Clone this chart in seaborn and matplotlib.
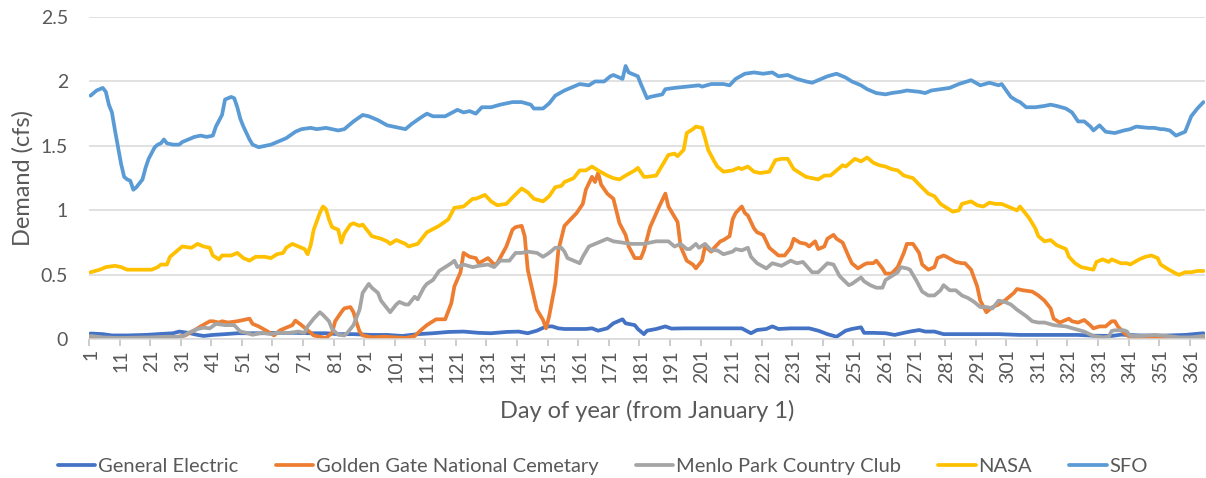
import numpy as np
import pandas as pd
import matplotlib
matplotlib.use("Agg")
import matplotlib.pyplot as plt
import seaborn as sns
from matplotlib.ticker import FixedLocator

sns.set_theme(style="white")
plt.rcParams['font.family'] = ['Lato', 'DejaVu Sans']

# ---------------- data ----------------
series_names = ["General Electric", "Golden Gate National Cemetary",
                "Menlo Park Country Club", "NASA", "SFO"]

ge_days = [1, 5, 8, 13, 19, 23, 28, 30, 33, 36, 38, 41, 45, 49, 57, 62, 68, 73, 78, 82, 87, 93, 98, 103,
           108, 113, 118, 123, 128, 132, 137, 141, 144, 147, 150, 152, 154, 156, 163, 165, 167, 170, 172,
           175, 176, 179, 180, 182, 183, 186, 189, 191, 195, 214, 217, 219, 222, 224, 226, 230, 236, 239,
           242, 245, 248, 250, 253, 254, 257, 261, 264, 267, 269, 272, 274, 277, 280, 298, 305, 324, 329,
           335, 338, 344, 351, 359, 365]
ge_vals = [0.045, 0.04, 0.03, 0.03, 0.034, 0.04, 0.047, 0.06, 0.05, 0.034, 0.026, 0.034, 0.04, 0.047,
           0.047, 0.05, 0.05, 0.047, 0.047, 0.04, 0.04, 0.034, 0.034, 0.026, 0.04, 0.047, 0.057, 0.06,
           0.05, 0.047, 0.057, 0.06, 0.047, 0.067, 0.10, 0.10, 0.085, 0.08, 0.08, 0.085, 0.067, 0.085,
           0.124, 0.155, 0.124, 0.11, 0.08, 0.04, 0.067, 0.08, 0.10, 0.083, 0.085, 0.085, 0.047, 0.072,
           0.08, 0.10, 0.08, 0.085, 0.085, 0.067, 0.04, 0.02, 0.067, 0.08, 0.093, 0.05, 0.05, 0.047,
           0.034, 0.05, 0.06, 0.072, 0.06, 0.06, 0.04, 0.04, 0.034, 0.034, 0.028, 0.026, 0.036, 0.03,
           0.028, 0.034, 0.047]

gg_days = [1, 5, 10, 16, 21, 26, 32, 35, 37, 40, 41, 43, 44, 46, 49, 51, 53, 54, 56, 59, 61, 63, 65, 67,
           68, 70, 72, 74, 77, 78, 80, 81, 83, 84, 86, 87, 88, 89, 90, 93, 97, 101, 104, 107, 109, 111,
           114, 117, 119, 120, 122, 123, 125, 127, 128, 131, 133, 134, 137, 139, 140, 142, 143, 144, 146,
           147, 149, 150, 151, 153, 154, 156, 158, 160, 162, 163, 165, 166, 167, 168, 170, 171, 172, 174,
           176, 177, 179, 181, 182, 184, 187, 189, 190, 193, 194, 196, 198, 199, 201, 202, 204, 205, 207,
           208, 210, 211, 212, 214, 215, 216, 218, 219, 221, 223, 225, 226, 228, 230, 231, 233, 235, 236,
           238, 239, 241, 242, 244, 245, 247, 249, 250, 252, 254, 255, 257, 258, 260, 261, 263, 265, 267,
           268, 270, 272, 273, 275, 277, 278, 280, 281, 284, 286, 287, 289, 291, 292, 294, 296, 298, 300,
           303, 304, 306, 309, 311, 313, 315, 316, 318, 321, 322, 324, 326, 328, 329, 331, 333, 335, 336,
           337, 339, 341, 346, 350, 354, 359, 363, 365]
gg_vals = [0.015, 0.01, 0.01, 0.0, 0.0, 0.005, 0.03, 0.07, 0.10, 0.14, 0.14, 0.13, 0.14, 0.13, 0.14,
           0.15, 0.16, 0.12, 0.10, 0.06, 0.03, 0.07, 0.09, 0.11, 0.145, 0.11, 0.07, 0.03, 0.015, 0.01,
           0.05, 0.14, 0.21, 0.24, 0.25, 0.21, 0.13, 0.06, 0.03, 0.015, 0.02, 0.015, 0.01, 0.025, 0.07,
           0.11, 0.155, 0.155, 0.28, 0.41, 0.52, 0.67, 0.64, 0.63, 0.59, 0.63, 0.58, 0.59, 0.72, 0.85,
           0.87, 0.88, 0.80, 0.54, 0.33, 0.23, 0.15, 0.085, 0.18, 0.43, 0.69, 0.88, 0.93, 0.98, 1.05,
           1.16, 1.26, 1.22, 1.29, 1.20, 1.13, 1.11, 1.09, 0.90, 0.81, 0.72, 0.63, 0.63, 0.69, 0.87,
           1.03, 1.13, 1.03, 0.91, 0.72, 0.61, 0.58, 0.55, 0.61, 0.72, 0.68, 0.71, 0.76, 0.77, 0.80,
           0.93, 0.98, 1.03, 0.98, 0.96, 0.86, 0.83, 0.81, 0.71, 0.67, 0.65, 0.65, 0.71, 0.78, 0.75,
           0.74, 0.72, 0.76, 0.70, 0.72, 0.78, 0.81, 0.78, 0.75, 0.64, 0.59, 0.55, 0.58, 0.59, 0.59,
           0.61, 0.55, 0.51, 0.51, 0.56, 0.67, 0.74, 0.74, 0.67, 0.58, 0.54, 0.56, 0.63, 0.65, 0.64,
           0.60, 0.59, 0.59, 0.54, 0.41, 0.30, 0.21, 0.25, 0.27, 0.30, 0.36, 0.39, 0.38, 0.37, 0.34,
           0.30, 0.24, 0.16, 0.13, 0.16, 0.14, 0.13, 0.15, 0.11, 0.085, 0.10, 0.10, 0.14, 0.14, 0.10,
           0.05, 0.015, 0.013, 0.005, 0.0, 0.0, 0.005, 0.005]

mp_days = [1, 5, 10, 16, 21, 26, 31, 33, 36, 38, 40, 42, 45, 48, 50, 52, 54, 57, 60, 62, 66, 69, 71, 72,
           74, 76, 77, 79, 80, 82, 84, 85, 87, 89, 90, 92, 93, 95, 96, 98, 99, 101, 102, 104, 105, 107,
           108, 110, 111, 113, 115, 117, 119, 120, 121, 123, 126, 128, 131, 133, 135, 138, 140, 142, 144,
           147, 149, 151, 153, 155, 156, 157, 159, 161, 162, 164, 166, 168, 170, 172, 175, 178, 182, 186,
           190, 192, 194, 196, 197, 199, 200, 202, 204, 206, 208, 211, 212, 214, 216, 217, 219, 222, 224,
           227, 230, 232, 234, 237, 239, 242, 244, 246, 249, 250, 253, 254, 256, 258, 260, 261, 263, 265,
           266, 268, 269, 271, 273, 275, 277, 279, 280, 282, 284, 286, 288, 290, 292, 294, 296, 298, 300,
           302, 304, 307, 309, 311, 313, 316, 320, 323, 326, 329, 332, 334, 335, 336, 339, 340, 341, 345,
           349, 353, 357, 361, 365]
mp_vals = [0.026, 0.015, 0.01, 0.013, 0.015, 0.02, 0.02, 0.05, 0.08, 0.09, 0.085, 0.12, 0.11, 0.11,
           0.06, 0.05, 0.035, 0.05, 0.04, 0.05, 0.05, 0.06, 0.05, 0.10, 0.16, 0.21, 0.19, 0.14, 0.08,
           0.035, 0.03, 0.05, 0.11, 0.23, 0.36, 0.43, 0.40, 0.36, 0.30, 0.24, 0.21, 0.27, 0.29, 0.27,
           0.27, 0.33, 0.31, 0.40, 0.43, 0.46, 0.53, 0.56, 0.59, 0.61, 0.56, 0.58, 0.56, 0.57, 0.58,
           0.56, 0.61, 0.61, 0.67, 0.67, 0.68, 0.67, 0.64, 0.67, 0.71, 0.71, 0.68, 0.63, 0.61, 0.59,
           0.64, 0.72, 0.74, 0.76, 0.78, 0.76, 0.75, 0.74, 0.74, 0.76, 0.76, 0.72, 0.74, 0.70, 0.70,
           0.74, 0.71, 0.74, 0.69, 0.69, 0.66, 0.68, 0.70, 0.69, 0.71, 0.64, 0.59, 0.55, 0.59, 0.57,
           0.61, 0.59, 0.60, 0.52, 0.52, 0.59, 0.58, 0.49, 0.42, 0.43, 0.48, 0.45, 0.42, 0.40, 0.40,
           0.46, 0.49, 0.52, 0.56, 0.55, 0.54, 0.46, 0.37, 0.34, 0.34, 0.38, 0.42, 0.38, 0.38, 0.34,
           0.32, 0.29, 0.25, 0.25, 0.24, 0.30, 0.29, 0.27, 0.23, 0.18, 0.14, 0.13, 0.13, 0.11, 0.10,
           0.08, 0.06, 0.026, 0.015, 0.02, 0.065, 0.07, 0.07, 0.06, 0.026, 0.026, 0.034, 0.026, 0.015,
           0.015, 0.026]

nasa_days = [1, 4, 6, 9, 11, 13, 16, 18, 21, 23, 24, 26, 27, 29, 31, 34, 36, 38, 40, 41, 43, 44, 47, 49,
             51, 53, 55, 58, 60, 62, 64, 65, 67, 69, 71, 72, 73, 74, 76, 77, 78, 79, 80, 82, 83, 84, 86,
             87, 89, 90, 92, 93, 96, 98, 99, 101, 104, 105, 108, 111, 115, 118, 120, 123, 126, 127, 130,
             132, 134, 137, 139, 142, 144, 146, 149, 151, 153, 155, 156, 158, 159, 161, 163, 165, 167,
             170, 172, 174, 176, 179, 180, 182, 183, 186, 188, 190, 192, 193, 195, 196, 198, 199, 201,
             202, 203, 205, 206, 208, 211, 213, 214, 216, 218, 220, 223, 225, 227, 229, 231, 233, 235,
             237, 239, 241, 243, 245, 247, 248, 251, 253, 255, 257, 259, 261, 263, 265, 267, 270, 272,
             275, 277, 279, 281, 283, 285, 286, 289, 291, 293, 295, 297, 299, 302, 304, 305, 308, 310,
             311, 313, 315, 317, 320, 321, 323, 325, 327, 329, 330, 332, 334, 335, 338, 340, 341, 344,
             346, 348, 350, 351, 353, 356, 357, 359, 361, 363, 365]
nasa_vals = [0.52, 0.54, 0.56, 0.57, 0.56, 0.54, 0.54, 0.54, 0.54, 0.56, 0.58, 0.58, 0.64, 0.68, 0.72,
             0.71, 0.74, 0.72, 0.71, 0.65, 0.62, 0.65, 0.65, 0.67, 0.63, 0.61, 0.64, 0.64, 0.63, 0.66,
             0.67, 0.71, 0.74, 0.72, 0.70, 0.66, 0.73, 0.85, 0.98, 1.03, 1.01, 0.93, 0.87, 0.85, 0.75,
             0.82, 0.89, 0.90, 0.88, 0.89, 0.83, 0.80, 0.78, 0.76, 0.74, 0.77, 0.74, 0.72, 0.74, 0.83,
             0.88, 0.93, 1.02, 1.03, 1.09, 1.09, 1.12, 1.07, 1.04, 1.05, 1.10, 1.17, 1.14, 1.09, 1.07,
             1.11, 1.18, 1.19, 1.22, 1.24, 1.25, 1.31, 1.31, 1.34, 1.31, 1.27, 1.25, 1.24, 1.27, 1.31,
             1.33, 1.26, 1.26, 1.27, 1.35, 1.43, 1.44, 1.42, 1.47, 1.60, 1.63, 1.65, 1.64, 1.56, 1.47,
             1.38, 1.34, 1.30, 1.31, 1.33, 1.32, 1.34, 1.30, 1.29, 1.30, 1.39, 1.40, 1.40, 1.32, 1.29,
             1.26, 1.25, 1.24, 1.27, 1.27, 1.31, 1.35, 1.34, 1.40, 1.38, 1.41, 1.37, 1.35, 1.34, 1.32,
             1.31, 1.27, 1.25, 1.20, 1.13, 1.11, 1.05, 1.02, 0.99, 1.00, 1.05, 1.07, 1.04, 1.03, 1.06,
             1.05, 1.05, 1.02, 1.00, 1.03, 0.94, 0.86, 0.80, 0.76, 0.77, 0.73, 0.70, 0.64, 0.59, 0.56,
             0.55, 0.54, 0.60, 0.62, 0.60, 0.62, 0.59, 0.59, 0.58, 0.62, 0.64, 0.65, 0.63, 0.58, 0.55,
             0.51, 0.50, 0.52, 0.52, 0.53, 0.53]

sfo_days = [1, 3, 4, 5, 6, 7, 8, 9, 10, 11, 12, 13, 14, 15, 16, 17, 18, 19, 20, 22, 23, 24, 25, 26, 28,
            30, 31, 33, 35, 37, 39, 41, 42, 44, 45, 47, 48, 49, 50, 51, 53, 54, 56, 60, 62, 65, 68, 70,
            73, 75, 78, 80, 82, 84, 87, 90, 92, 95, 98, 102, 104, 106, 109, 111, 113, 117, 121, 123, 125,
            127, 129, 132, 135, 139, 142, 145, 146, 149, 151, 153, 156, 158, 161, 164, 166, 169, 171, 172,
            175, 176, 177, 180, 181, 183, 184, 188, 189, 192, 196, 200, 201, 204, 208, 210, 212, 215, 218,
            221, 224, 226, 229, 232, 235, 237, 239, 242, 245, 248, 250, 253, 255, 258, 261, 263, 266, 268,
            272, 274, 276, 279, 282, 285, 289, 292, 295, 298, 299, 302, 304, 305, 307, 310, 313, 315, 317,
            320, 322, 324, 326, 328, 329, 331, 333, 336, 339, 341, 343, 347, 349, 351, 352, 354, 356, 358,
            359, 361, 363, 365]
sfo_vals = [1.89, 1.93, 1.94, 1.95, 1.92, 1.82, 1.76, 1.62, 1.49, 1.36, 1.26, 1.24, 1.23, 1.16, 1.18,
            1.21, 1.24, 1.33, 1.40, 1.49, 1.51, 1.52, 1.55, 1.52, 1.51, 1.51, 1.53, 1.55, 1.57, 1.58,
            1.57, 1.58, 1.65, 1.74, 1.86, 1.88, 1.87, 1.80, 1.71, 1.65, 1.55, 1.51, 1.49, 1.51, 1.53,
            1.56, 1.61, 1.63, 1.64, 1.63, 1.64, 1.63, 1.62, 1.63, 1.69, 1.74, 1.73, 1.70, 1.66, 1.64,
            1.63, 1.67, 1.72, 1.75, 1.73, 1.73, 1.78, 1.76, 1.77, 1.75, 1.80, 1.80, 1.82, 1.84, 1.84,
            1.82, 1.79, 1.79, 1.83, 1.89, 1.93, 1.95, 1.98, 1.97, 2.00, 2.00, 2.04, 2.05, 2.02, 2.12,
            2.07, 2.04, 1.98, 1.87, 1.88, 1.90, 1.94, 1.95, 1.96, 1.97, 1.96, 1.98, 1.98, 1.97, 2.02,
            2.06, 2.07, 2.06, 2.07, 2.04, 2.05, 2.02, 2.00, 1.99, 2.01, 2.04, 2.06, 2.03, 2.00, 1.97,
            1.94, 1.91, 1.90, 1.91, 1.92, 1.93, 1.92, 1.91, 1.93, 1.94, 1.95, 1.98, 2.01, 1.97, 1.99,
            1.97, 1.98, 1.88, 1.85, 1.84, 1.80, 1.80, 1.81, 1.82, 1.81, 1.79, 1.76, 1.69, 1.69, 1.65,
            1.62, 1.66, 1.61, 1.60, 1.62, 1.63, 1.65, 1.64, 1.64, 1.63, 1.63, 1.62, 1.58, 1.60, 1.61,
            1.73, 1.79, 1.84]

x_tick_labels = [str(d) for d in range(1, 366, 10)]
y_tick_values = [0, 0.5, 1, 1.5, 2, 2.5]
y_tick_labels = ["0", "0.5", "1", "1.5", "2", "2.5"]

colors = ["#4472C4", "#ED7D31", "#A5A5A5", "#FFC000", "#5B9BD5"]

# ---------------- build long table ----------------
frames = []
for name, d, v in zip(series_names,
                      [ge_days, gg_days, mp_days, nasa_days, sfo_days],
                      [ge_vals, gg_vals, mp_vals, nasa_vals, sfo_vals]):
    frames.append(pd.DataFrame({"day": d, "demand": v, "site": name}))
df = pd.concat(frames, ignore_index=True)

# ---------------- figure ----------------
W, H = 1206, 478
fig = plt.figure(figsize=(W / 100, H / 100), dpi=100)
ax = fig.add_axes([89 / W, 1 - 339.3 / H, 1116 / W, (339.3 - 17) / H])

sns.lineplot(data=df, x="day", y="demand", hue="site", hue_order=series_names,
             palette=colors, linewidth=2.7, estimator=None, sort=True, ax=ax)

text_color = "#595959"
grid_color = "#D9D9D9"

ax.set_xlim(0.5, 365.5)
ax.set_ylim(0, 2.5)
ax.set_yticks(y_tick_values)
ax.set_yticklabels(y_tick_labels)
ax.yaxis.grid(True, color=grid_color, linewidth=1.1)
ax.set_axisbelow(True)
ax.tick_params(axis="y", length=0, pad=15, labelsize=14, labelcolor=text_color)

xt = [int(s) for s in x_tick_labels]
ax.set_xticks(xt)
ax.set_xticklabels(x_tick_labels, rotation=90)
ax.xaxis.set_minor_locator(FixedLocator([t - 0.5 for t in xt]))
ax.tick_params(axis="x", which="major", length=0, pad=7, labelsize=14, labelcolor=text_color)
ax.tick_params(axis="x", which="minor", length=5, width=1.1, color="#BFBFBF", bottom=True)

for s in ["left", "right", "top"]:
    ax.spines[s].set_visible(False)
ax.spines["bottom"].set_color("#D9D9D9")
ax.spines["bottom"].set_linewidth(1.1)

ax.set_xlabel("Day of year (from January 1)", fontsize=17, color=text_color, labelpad=12)
ax.set_ylabel("Demand (cfs)", fontsize=17, color=text_color, labelpad=5)

handles, labels = ax.get_legend_handles_labels()
ax.legend_.remove()
fig.legend(handles, labels, loc="center", bbox_to_anchor=(0.5, 1 - 466 / H), ncol=5,
           frameon=False, fontsize=14.5, handlelength=1.85, handletextpad=0.15,
           columnspacing=1.85, labelcolor=text_color)

fig.savefig("out.png", dpi=100)
